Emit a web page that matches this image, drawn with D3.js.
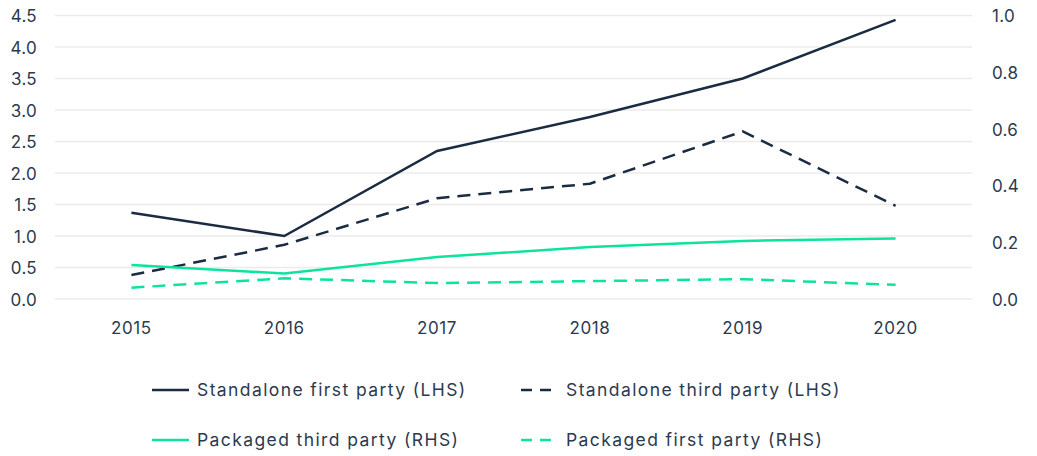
<!DOCTYPE html>
<html>
<head>
<meta charset="utf-8">
<script src="https://cdn.jsdelivr.net/npm/d3@7"></script>
<style>
  body { margin: 0; background: #fff; }
  text { font-family: Inter, "Noto Sans", sans-serif; fill: #2b3a4f; }
</style>
</head>
<body>
<svg id="chart"></svg>
<script>
// chart data
var years = ["2015", "2016", "2017", "2018", "2019", "2020"];
var standaloneFirst = [1.37, 1.0, 2.35, 2.89, 3.5, 4.43];
var standaloneThird = [0.38, 0.86, 1.6, 1.83, 2.66, 1.48];
var packagedThird = [0.12, 0.09, 0.148, 0.183, 0.205, 0.213];
var packagedFirst = [0.04, 0.073, 0.056, 0.063, 0.07, 0.05];
var leftTicks = [0, 0.5, 1, 1.5, 2, 2.5, 3, 3.5, 4, 4.5];
var rightTicks = [0, 0.2, 0.4, 0.6, 0.8, 1.0];

var navy = "#1b2b42", green = "#0de39e";

var series = [
  {name: "Standalone first party (LHS)", values: standaloneFirst, axis: "left", color: navy, dash: null},
  {name: "Standalone third party (LHS)", values: standaloneThird, axis: "left", color: navy, dash: "13,8"},
  {name: "Packaged third party (RHS)", values: packagedThird, axis: "right", color: green, dash: null},
  {name: "Packaged first party (RHS)", values: packagedFirst, axis: "right", color: green, dash: "13,8"}
];

var svg = d3.select("#chart")
    .attr("width", 1037)
    .attr("height", 456);

// plot area
var plotLeft = 55, plotRight = 972, plotTop = 15.5, plotBottom = 299;

var x = d3.scaleBand().domain(years).range([plotLeft, plotRight]);
var yL = d3.scaleLinear().domain([0, 4.5]).range([plotBottom, plotTop]);
var yR = d3.scaleLinear().domain([0, 1]).range([plotBottom, plotTop]);

// gridlines (follow the left axis)
svg.append("g")
  .selectAll("line")
  .data(leftTicks)
  .enter().append("line")
    .attr("x1", plotLeft)
    .attr("x2", plotRight)
    .attr("y1", function(d) { return yL(d); })
    .attr("y2", function(d) { return yL(d); })
    .attr("stroke", "#ebebeb")
    .attr("stroke-width", 1.5);

// left axis
var gL = svg.append("g")
    .attr("transform", "translate(37,0)")
    .call(d3.axisLeft(yL).tickValues(leftTicks).tickFormat(d3.format(".1f")).tickSize(0).tickPadding(0));
gL.select(".domain").remove();
gL.selectAll("text").style("font-size", "17px").style("letter-spacing", "0.3px").attr("dy", "0.36em");

// right axis
var gR = svg.append("g")
    .attr("transform", "translate(992,0)")
    .call(d3.axisRight(yR).tickValues(rightTicks).tickFormat(d3.format(".1f")).tickSize(0).tickPadding(0));
gR.select(".domain").remove();
gR.selectAll("text").style("font-size", "17px").style("letter-spacing", "0.3px").attr("dy", "0.36em");

// x axis
var gX = svg.append("g")
    .attr("transform", "translate(0,322)")
    .call(d3.axisBottom(x).tickSize(0).tickPadding(0));
gX.select(".domain").remove();
gX.selectAll("text").style("font-size", "17px").style("letter-spacing", "0.6px").attr("dy", "0.71em");

// lines
series.forEach(function(s) {
  var y = s.axis === "left" ? yL : yR;
  var line = d3.line()
      .x(function(d, i) { return x(years[i]) + x.bandwidth() / 2; })
      .y(function(d) { return y(d); });
  svg.append("path")
      .datum(s.values)
      .attr("d", line)
      .attr("fill", "none")
      .attr("stroke", s.color)
      .attr("stroke-width", 2.5)
      .attr("stroke-dasharray", s.dash);
});

// legend
var legendPos = [[152, 390], [521, 390], [152, 440], [521, 440]];
var legend = svg.append("g")
  .selectAll("g")
  .data(series)
  .enter().append("g")
    .attr("transform", function(d, i) { return "translate(" + legendPos[i][0] + "," + legendPos[i][1] + ")"; });

legend.append("line")
    .attr("x1", 0)
    .attr("x2", 37)
    .attr("stroke", function(d) { return d.color; })
    .attr("stroke-width", 2.5)
    .attr("stroke-dasharray", function(d) { return d.dash ? "11,8" : null; });

legend.append("text")
    .attr("x", 45)
    .attr("dy", "0.36em")
    .style("font-size", "17.5px")
    .style("letter-spacing", "1.4px")
    .text(function(d) { return d.name; });
</script>
</body>
</html>
